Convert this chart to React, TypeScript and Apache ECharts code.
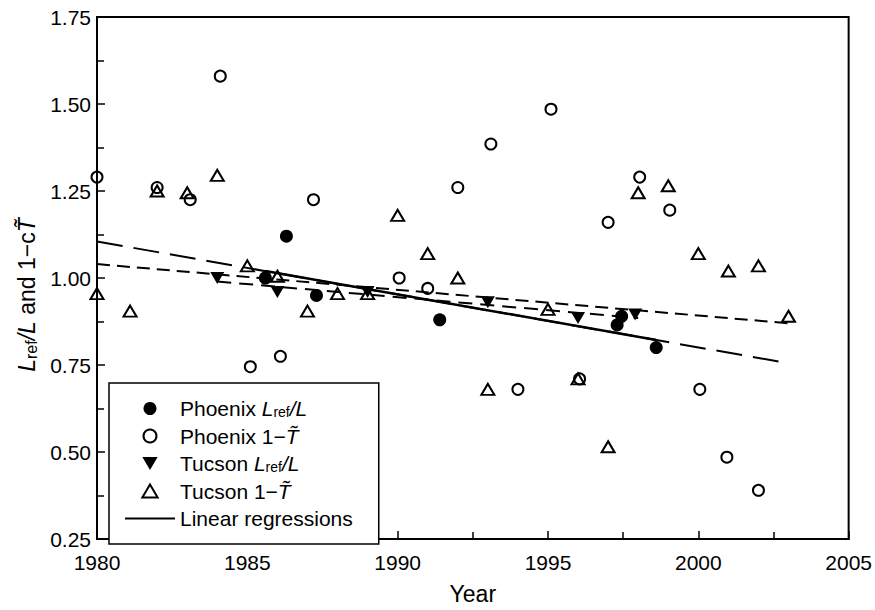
import React, { useEffect, useRef } from "react";
import * as echarts from "echarts";

// ---- Data ----
const phxLrefYears = [1985.6, 1986.3, 1987.3, 1991.4, 1997.3, 1997.45, 1998.6];
const phxLrefValues = [1.0, 1.12, 0.95, 0.88, 0.865, 0.89, 0.8];

const phxTYears = [1980.0, 1982.0, 1983.1, 1984.1, 1985.1, 1986.1, 1987.2, 1990.05, 1991.0, 1992.0, 1993.1, 1994.0, 1995.1, 1996.05, 1997.0, 1998.05, 1999.05, 2000.05, 2000.95, 2002.0];
const phxTValues = [1.29, 1.26, 1.225, 1.58, 0.745, 0.775, 1.225, 1.0, 0.97, 1.26, 1.385, 0.68, 1.485, 0.71, 1.16, 1.29, 1.195, 0.68, 0.485, 0.39];

const tucLrefYears = [1984.0, 1986.0, 1989.0, 1993.0, 1996.0, 1997.9];
const tucLrefValues = [1.0, 0.96, 0.96, 0.93, 0.885, 0.895];

const tucTYears = [1980.0, 1981.1, 1982.0, 1983.0, 1984.0, 1985.0, 1986.0, 1987.0, 1988.0, 1989.0, 1990.0, 1991.0, 1992.0, 1993.0, 1995.0, 1996.0, 1997.0, 1998.0, 1999.0, 2000.0, 2001.0, 2002.0, 2003.0];
const tucTValues = [0.955, 0.905, 1.25, 1.245, 1.295, 1.035, 1.005, 0.905, 0.955, 0.955, 1.18, 1.07, 1.0, 0.68, 0.91, 0.71, 0.515, 1.245, 1.265, 1.07, 1.02, 1.035, 0.89];

// Regression lines (end points)
const phxFitFullYears = [1980, 2003];
const phxFitFullValues = [1.105, 0.755];
const phxFitYears = [1985.6, 1998.6];
const phxFitValues = [1.02, 0.822];
const tucFitFullYears = [1980, 2003];
const tucFitFullValues = [1.04, 0.87];
const tucFitYears = [1984, 1998];
const tucFitValues = [0.99, 0.885];

const xTicks = [1980, 1985, 1990, 1995, 2000, 2005];
const yTicks = [0.25, 0.5, 0.75, 1.0, 1.25, 1.5, 1.75];

const zip = (xs: number[], ys: number[]) => xs.map((x, i) => [x, ys[i]]);

const FONT = "'Liberation Sans', Arial, Helvetica, sans-serif";
const DOWN_TRI = "path://M0,0L20,0L10,17Z";
const UP_TRI = "path://M10,0L20,17L0,17Z";

const legendLabels: Record<string, string> = {
  "Phoenix Lref/L": "Phoenix {i|L}{sub|ref}{i|/L}",
  "Phoenix 1-T": "Phoenix 1\u2212{i|T\u0303}",
  "Tucson Lref/L": "Tucson {i|L}{sub|ref}{i|/L}",
  "Tucson 1-T": "Tucson 1\u2212{i|T\u0303}",
  "Linear regressions": "Linear regressions",
};

export default function App() {
  const ref = useRef<HTMLDivElement>(null);
  useEffect(() => {
    if (!ref.current) return;
    const chart = echarts.init(ref.current, null, { renderer: "svg" });
    const axisLine = { show: true, lineStyle: { color: "#000", width: 2 } };
    const tick = { show: true, inside: true, length: 8, lineStyle: { color: "#000", width: 1.5 } };
    const minor = { show: true, splitNumber: 2, length: 7, lineStyle: { color: "#000", width: 1.5 } };
    const option: any = {
      animation: false,
      backgroundColor: "#fff",
      grid: {
        left: 97,
        right: 22,
        top: 17,
        bottom: 64,
        show: true,
        borderColor: "#000",
        borderWidth: 2,
        backgroundColor: "transparent",
      },
      xAxis: {
        type: "value",
        min: xTicks[0],
        max: xTicks[xTicks.length - 1],
        interval: 5,
        axisLine,
        axisTick: tick,
        minorTick: minor,
        splitLine: { show: false },
        axisLabel: {
          color: "#000",
          fontSize: 21,
          fontFamily: FONT,
          margin: 13,
          formatter: (v: number) => String(v),
        },
        name: "Year",
        nameLocation: "middle",
        nameGap: 43,
        nameTextStyle: { color: "#000", fontSize: 23, fontFamily: FONT },
      },
      yAxis: {
        type: "value",
        min: yTicks[0],
        max: yTicks[yTicks.length - 1],
        interval: 0.25,
        axisLine,
        axisTick: tick,
        minorTick: minor,
        splitLine: { show: false },
        axisLabel: {
          color: "#000",
          fontSize: 21,
          fontFamily: FONT,
          margin: 6,
          formatter: (v: number) => v.toFixed(2),
        },
        name: "{i|L}{sub|ref}{i|/L} and 1\u2212c{i|T\u0303}",
        nameLocation: "middle",
        nameGap: 54,
        nameRotate: 90,
        nameTextStyle: {
          color: "#000",
          fontSize: 23,
          fontFamily: FONT,
          lineHeight: 24,
          padding: [0, 34, 0, 0],
          rich: {
            i: { fontStyle: "italic", fontSize: 23, fontFamily: FONT, color: "#000", lineHeight: 24 },
            sub: { fontSize: 16, fontFamily: FONT, color: "#000", lineHeight: 15, verticalAlign: "bottom" },
          },
        },
      },
      legend: {
        orient: "vertical",
        left: 109,
        top: 383,
        padding: [15, 26, 15, 15],
        itemGap: 6.5,
        itemWidth: 50,
        itemHeight: 13,
        borderColor: "#000",
        borderWidth: 1.5,
        backgroundColor: "#fff",
        data: [
          "Phoenix Lref/L",
          "Phoenix 1-T",
          "Tucson Lref/L",
          "Tucson 1-T",
          { name: "Linear regressions", itemStyle: { opacity: 0 } },
        ],
        formatter: (name: string) => legendLabels[name] || name,
        textStyle: {
          color: "#000",
          fontSize: 21,
          fontFamily: FONT,
          lineHeight: 20,
          rich: {
            i: { fontStyle: "italic", fontSize: 21, fontFamily: FONT, color: "#000", lineHeight: 20 },
            sub: { fontSize: 14, fontFamily: FONT, color: "#000", lineHeight: 12, verticalAlign: "bottom" },
          },
        },
      },
      series: [
        {
          name: "phxFull",
          type: "line",
          data: zip(phxFitFullYears, phxFitFullValues),
          symbol: "none",
          lineStyle: { color: "#000", width: 2, type: [26, 11] },
          z: 2,
        },
        {
          name: "tucFull",
          type: "line",
          data: zip(tucFitFullYears, tucFitFullValues),
          symbol: "none",
          lineStyle: { color: "#000", width: 2, type: [13, 7] },
          z: 2,
        },
        {
          name: "tucFit",
          type: "line",
          data: zip(tucFitYears, tucFitValues),
          symbol: "none",
          lineStyle: { color: "#000", width: 2, type: [14, 8] },
          z: 2,
        },
        {
          name: "Linear regressions",
          type: "line",
          data: zip(phxFitYears, phxFitValues),
          symbol: "none",
          lineStyle: { color: "#000", width: 2.5, type: "solid" },
          itemStyle: { color: "#000" },
          z: 2,
        },
        {
          name: "Phoenix 1-T",
          type: "scatter",
          data: zip(phxTYears, phxTValues),
          symbol: "circle",
          symbolSize: 11,
          itemStyle: { color: "rgba(255,255,255,0)", borderColor: "#000", borderWidth: 2, opacity: 1 },
          z: 3,
        },
        {
          name: "Tucson 1-T",
          type: "scatter",
          data: zip(tucTYears, tucTValues),
          symbol: UP_TRI,
          symbolSize: [13, 11],
          itemStyle: { color: "rgba(255,255,255,0)", borderColor: "#000", borderWidth: 2, opacity: 1 },
          z: 3,
        },
        {
          name: "Phoenix Lref/L",
          type: "scatter",
          data: zip(phxLrefYears, phxLrefValues),
          symbol: "circle",
          symbolSize: 13,
          itemStyle: { color: "#000", opacity: 1 },
          z: 4,
        },
        {
          name: "Tucson Lref/L",
          type: "scatter",
          data: zip(tucLrefYears, tucLrefValues),
          symbol: DOWN_TRI,
          symbolSize: [14, 12],
          itemStyle: { color: "#000", opacity: 1 },
          z: 4,
        },
      ],
    };
    chart.setOption(option);
    return () => chart.dispose();
  }, []);
  return (
    <div
      ref={ref}
      style={{ position: "absolute", left: 0, top: 0, width: 875, height: 610, background: "#fff" }}
    />
  );
}
